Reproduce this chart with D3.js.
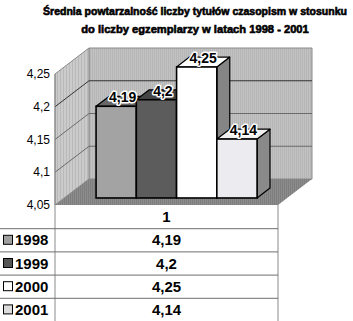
<!DOCTYPE html>
<html>
<head>
<meta charset="utf-8">
<script src="https://cdn.jsdelivr.net/npm/d3@7"></script>
<style>
  html, body { margin: 0; padding: 0; background: #fff; }
  svg { display: block; }
</style>
</head>
<body>
<svg id="chart" width="353" height="321"></svg>
<script>
// Chart data
const titleLines = [
  "Średnia powtarzalność liczby tytułów czasopism w stosunku",
  "do liczby egzemplarzy w latach 1998 - 2001"
];
const categories = ["1"];
const seriesNames = ["1998", "1999", "2000", "2001"];
const seriesValues = [4.19, 4.2, 4.25, 4.14];
const valueLabels = ["4,19", "4,2", "4,25", "4,14"];
const tickValues = [4.05, 4.1, 4.15, 4.2, 4.25];
const tickLabels = ["4,05", "4,1", "4,15", "4,2", "4,25"];

// Series colours: front, top, side faces
const fills = [
  { front: "#a3a3a3", top: "#686868", side: "#5e5e5e", key: "#a0a0a0" },
  { front: "#5c5c5c", top: "#454545", side: "#3a3a3a", key: "#555555" },
  { front: "#ffffff", top: "#ffffff", side: "#858585", key: "#ffffff" },
  { front: "#ececf0", top: "#efefef", side: "#8a8a8a", key: "#dcdcdc" }
];

const svg = d3.select("#chart");
const font = "'Liberation Sans', Arial, sans-serif";

// Plot geometry: front plane and depth vector
const plot = { left: 55, right: 278, top: 74, bottom: 205 };
const depth = { dx: 34, dy: -26 };

const y = d3.scaleLinear().domain([4.05, 4.25]).range([plot.bottom, plot.top]);
const xCat = d3.scaleBand().domain(categories).range([plot.left, plot.right]);
const proj = (x, v, z) => [x + depth.dx * z, y(v) + depth.dy * z];
const poly = pts => "M" + pts.map(p => p.join(",")).join("L") + "Z";

// Textures
const defs = svg.append("defs");
function stripes(id, base, line, w) {
  const p = defs.append("pattern").attr("id", id).attr("patternUnits", "userSpaceOnUse")
    .attr("width", w).attr("height", 4);
  p.append("rect").attr("width", w).attr("height", 4).attr("fill", base);
  p.append("rect").attr("width", 1).attr("height", 4).attr("fill", line);
}
stripes("sideTex", "#cbcbcb", "#b9b9b9", 3);
stripes("backTex", "#c2c2c2", "#b6b6b6", 2);
stripes("floorTex", "#8c8c8c", "#7e7e7e", 2);

const vMin = y.domain()[0], vMax = y.domain()[1];

// Back wall
svg.append("path")
  .attr("d", poly([proj(plot.left, vMin, 1), proj(plot.right, vMin, 1), proj(plot.right, vMax, 1), proj(plot.left, vMax, 1)]))
  .attr("fill", "url(#backTex)").attr("stroke", "#8a8a8a").attr("stroke-width", 1);

// Side wall
svg.append("path")
  .attr("d", poly([proj(plot.left, vMin, 0), proj(plot.left, vMin, 1), proj(plot.left, vMax, 1), proj(plot.left, vMax, 0)]))
  .attr("fill", "url(#sideTex)").attr("stroke", "#8a8a8a").attr("stroke-width", 1);

// Floor
svg.append("path")
  .attr("d", poly([proj(plot.left, vMin, 0), proj(plot.right, vMin, 0), proj(plot.right, vMin, 1), proj(plot.left, vMin, 1)]))
  .attr("fill", "url(#floorTex)");

// Gridlines along side wall and back wall
const grid = svg.append("g");
tickValues.filter(v => v > vMin && v < vMax).forEach(v => {
  const a = proj(plot.left, v, 0), b = proj(plot.left, v, 1), c = proj(plot.right, v, 1);
  grid.append("path").attr("d", `M${a}L${b}L${c}`)
    .attr("fill", "none").attr("stroke", v === 4.2 ? "#333" : "#6a6a6a").attr("stroke-width", 1);
});

// Value axis line
svg.append("line")
  .attr("x1", plot.left).attr("x2", plot.left)
  .attr("y1", y(vMax)).attr("y2", y(vMin))
  .attr("stroke", "#8a8a8a");

// Tick labels
svg.append("g").selectAll("text").data(tickValues).join("text")
  .attr("x", plot.left - 5).attr("y", d => y(d) + 4)
  .attr("text-anchor", "end")
  .attr("font-family", font).attr("font-size", 12).attr("fill", "#000")
  .text((d, i) => tickLabels[i]);

// Bars
const bw = xCat.bandwidth();
const xSeries = d3.scaleBand().domain(seriesNames)
  .range([xCat("1") + bw * 0.143, xCat("1") + bw * 0.865]).padding(0);
const z0 = 0.27, z1 = 0.65;

const bars = svg.append("g");
seriesNames.forEach((s, i) => {
  const v = seriesValues[i];
  const x0 = xSeries(s), x1 = x0 + xSeries.bandwidth();
  const f = fills[i];
  const g = bars.append("g");
  // right side face
  g.append("path").attr("d", poly([proj(x1, vMin, z0), proj(x1, vMin, z1), proj(x1, v, z1), proj(x1, v, z0)]))
    .attr("fill", f.side).attr("stroke", "#000").attr("stroke-width", 1.2).attr("stroke-linejoin", "round");
  // top face
  g.append("path").attr("d", poly([proj(x0, v, z0), proj(x1, v, z0), proj(x1, v, z1), proj(x0, v, z1)]))
    .attr("fill", f.top).attr("stroke", "#000").attr("stroke-width", 1.2).attr("stroke-linejoin", "round");
  // front face
  const p0 = proj(x0, v, z0), p1 = proj(x1, vMin, z0);
  g.append("rect").attr("x", p0[0]).attr("y", p0[1])
    .attr("width", p1[0] - p0[0]).attr("height", p1[1] - p0[1])
    .attr("fill", f.front).attr("stroke", "#000").attr("stroke-width", 1.6);
});

// Value labels above each bar
const labels = svg.append("g");
seriesNames.forEach((s, i) => {
  const v = seriesValues[i];
  const cx = xSeries(s) + xSeries.bandwidth() / 2;
  const p = proj(cx, v, (z0 + z1) / 2);
  labels.append("text")
    .attr("x", p[0]).attr("y", p[1] + 1)
    .attr("text-anchor", "middle")
    .attr("font-family", font).attr("font-size", 14).attr("font-weight", "bold")
    .attr("fill", "#000").attr("stroke", "#fff").attr("stroke-width", 3)
    .attr("paint-order", "stroke").attr("stroke-linejoin", "round")
    .text(valueLabels[i]);
});

// Data table below the plot
const rowY = d3.scaleBand().domain(["head"].concat(seriesNames)).range([plot.bottom, 321]);
const table = svg.append("g");
const lineCol = "#6e6e6e";
table.append("line").attr("x1", plot.left).attr("x2", plot.left)
  .attr("y1", plot.bottom).attr("y2", 321).attr("stroke", "#8a8a8a");
table.append("line").attr("x1", plot.right).attr("x2", plot.right)
  .attr("y1", plot.bottom - 1).attr("y2", 321).attr("stroke", "#8a8a8a");
seriesNames.forEach(s => {
  table.append("line").attr("x1", 0).attr("x2", plot.right)
    .attr("y1", rowY(s) + 0.5).attr("y2", rowY(s) + 0.5)
    .attr("stroke", lineCol);
});
const colX = xCat("1") + bw / 2;
table.append("text").attr("x", colX).attr("y", rowY("head") + rowY.bandwidth() / 2 + 5.5)
  .attr("text-anchor", "middle").attr("font-family", font)
  .attr("font-size", 15).attr("font-weight", "bold").text(categories[0]);
seriesNames.forEach((s, i) => {
  const cy = rowY(s) + rowY.bandwidth() / 2;
  table.append("text").attr("x", colX).attr("y", cy + 5.5)
    .attr("text-anchor", "middle").attr("font-family", font)
    .attr("font-size", 15).attr("font-weight", "bold").text(valueLabels[i]);
  table.append("rect").attr("x", 3.5).attr("y", cy - 4.5).attr("width", 9).attr("height", 9)
    .attr("fill", fills[i].key).attr("stroke", "#000");
  table.append("text").attr("x", 15).attr("y", cy + 5.5)
    .attr("font-family", font).attr("font-size", 15).attr("font-weight", "bold").text(s);
});

// Title: the font size is set so that each line fills its target width
const titleWidths = [304, 228];
const titleY = [15, 33];
titleLines.forEach((t, i) => {
  const node = svg.append("text")
    .attr("x", 195).attr("y", titleY[i])
    .attr("text-anchor", "middle")
    .attr("font-family", "'Liberation Sans Narrow', 'Liberation Sans', sans-serif")
    .attr("font-size", 12.5).attr("font-weight", "bold")
    .attr("stroke", "#000").attr("stroke-width", 0.6)
    .text(t);
  const natural = node.node().getComputedTextLength();
  node.attr("font-size", 12.5 * titleWidths[i] / natural);
});
</script>
</body>
</html>
